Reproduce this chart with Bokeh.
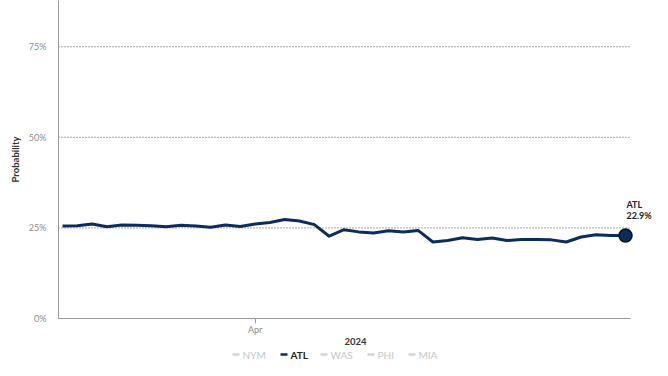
import pandas as pd
from bokeh.plotting import figure
from bokeh.layouts import column
from bokeh.models import Range1d, FixedTicker, PrintfTickFormatter
from bokeh.core.properties import value
from bokeh.embed import file_html
from bokeh.resources import INLINE

# ---- data ----
start_date = "2024-03-19"
atl = [25.5, 25.6, 26.1, 25.3, 25.8, 25.7, 25.6, 25.3, 25.7, 25.5,
       25.2, 25.8, 25.4, 26.1, 26.5, 27.3, 26.9, 25.9, 22.7, 24.5,
       23.9, 23.6, 24.2, 23.9, 24.3, 21.1, 21.5, 22.3, 21.8, 22.2,
       21.5, 21.8, 21.8, 21.7, 21.1, 22.5, 23.1, 22.9, 22.9]
dates = pd.date_range(start_date, periods=len(atl), freq="D")
teams = ["NYM", "ATL", "WAS", "PHI", "MIA"]
active_team = "ATL"
y_ticks = [0, 25, 50, 75]
grid_ticks = [25, 50, 75]
x_tick_date = "2024-04-01"
x_tick_label = "Apr"
year_label = "2024"

NAVY = "#0c2c5c"
FONT = "Lato"
AXIS_GREY = "#9a9a9a"

ms = [d.value // 10**6 for d in dates]
DAY = 86400000
px_per_day = 563 / (len(atl) - 1)
x0 = ms[0] - 4 / px_per_day * DAY
x_axis_end = ms[-1] + 5 / px_per_day * DAY
x1 = ms[-1] + 27 / px_per_day * DAY
y0, y1 = 0, 87.75

W = 652
FRAME_LEFT = 58
p = figure(width=W, height=348, output_backend="svg", toolbar_location=None,
           x_range=Range1d(x0, x1), y_range=Range1d(y0, y1),
           min_border_left=FRAME_LEFT, min_border_right=0, min_border_top=0,
           min_border_bottom=30)
p.outline_line_color = None
p.background_fill_color = "white"

# y axis
p.yaxis.ticker = FixedTicker(ticks=y_ticks)
p.yaxis.formatter = PrintfTickFormatter(format="%d%%")
p.yaxis.major_tick_out = 0
p.yaxis.major_tick_in = 0
p.yaxis.minor_tick_line_color = None
p.yaxis.axis_line_color = AXIS_GREY
p.yaxis.major_label_text_color = "#8a8a8a"
p.yaxis.major_label_text_font = FONT
p.yaxis.major_label_text_font_size = "9px"
p.yaxis.major_label_standoff = 12
p.yaxis.axis_label = "Probability"
p.yaxis.axis_label_text_font = FONT
p.yaxis.axis_label_text_font_style = "bold"
p.yaxis.axis_label_text_font_size = "9.5px"
p.yaxis.axis_label_text_color = "#333333"
p.yaxis.axis_label_standoff = 5

# x axis
tick_ms = pd.Timestamp(x_tick_date).value // 10**6
p.xaxis.ticker = FixedTicker(ticks=[tick_ms])
p.xaxis.major_label_overrides = {tick_ms: x_tick_label}
p.xaxis.bounds = (x0, x_axis_end)
p.xaxis.major_tick_out = 5
p.xaxis.major_tick_in = 0
p.xaxis.major_tick_line_color = AXIS_GREY
p.xaxis.minor_tick_line_color = None
p.xaxis.axis_line_color = AXIS_GREY
p.xaxis.major_label_text_color = "#8a8a8a"
p.xaxis.major_label_text_font = FONT
p.xaxis.major_label_text_font_size = "9px"
p.xaxis.major_label_standoff = 0
p.xaxis.axis_label = year_label
p.xaxis.axis_label_text_font = FONT
p.xaxis.axis_label_text_font_style = "bold"
p.xaxis.axis_label_text_font_size = "9.5px"
p.xaxis.axis_label_text_color = "#333333"
p.xaxis.axis_label_standoff = 0

p.xgrid.grid_line_color = None
p.ygrid.grid_line_color = None
# dotted grid lines that stop at the end of the x axis
p.segment(x0=[x0] * len(grid_ticks), y0=grid_ticks,
          x1=[x_axis_end] * len(grid_ticks), y1=grid_ticks,
          line_color="#555555", line_width=1, line_dash="1 2")

# series
p.line(ms, atl, line_color=NAVY, line_width=3, line_join="round")
p.scatter([ms[-1]], [atl[-1]], size=13, fill_color=NAVY, line_color="#111111",
          line_width=1.5)

# end label
p.text(x=[ms[-1], ms[-1]], y=[atl[-1], atl[-1]],
       text=[active_team, f"{atl[-1]:.1f}%"],
       x_offset=1, y_offset=[-31, -20],
       text_font=value(FONT), text_font_style="bold", text_font_size="9px",
       text_color="#222222", text_baseline="middle", text_align="left")

# legend row as its own small figure below the chart (x in page pixels)
LH = 12
leg = figure(width=W, height=LH, output_backend="svg", toolbar_location=None,
             x_range=Range1d(FRAME_LEFT, W), y_range=Range1d(0, LH),
             min_border=0, x_axis_type=None, y_axis_type=None)
leg.outline_line_color = None
leg.xgrid.grid_line_color = None
leg.ygrid.grid_line_color = None
marker_px = [232, 280, 320, 367, 408]
text_px = [242, 290, 330, 377, 418]
mcol = [NAVY if t == active_team else "#d3d3d3" for t in teams]
tcol = ["#222222" if t == active_team else "#c6c6c6" for t in teams]
leg.segment(x0=marker_px, y0=[LH / 2] * 5, x1=[m + 7 for m in marker_px],
            y1=[LH / 2] * 5, line_color=mcol, line_width=2.5)
for t, tx, c in zip(teams, text_px, tcol):
    leg.text(x=[tx], y=[LH / 2], text=[t], text_font=value(FONT),
             text_font_style="bold" if t == active_team else "normal",
             text_font_size="10px", text_color=c, text_baseline="middle")

layout = column(p, leg, spacing=0)
open("out.html", "w").write(file_html(layout, INLINE))
